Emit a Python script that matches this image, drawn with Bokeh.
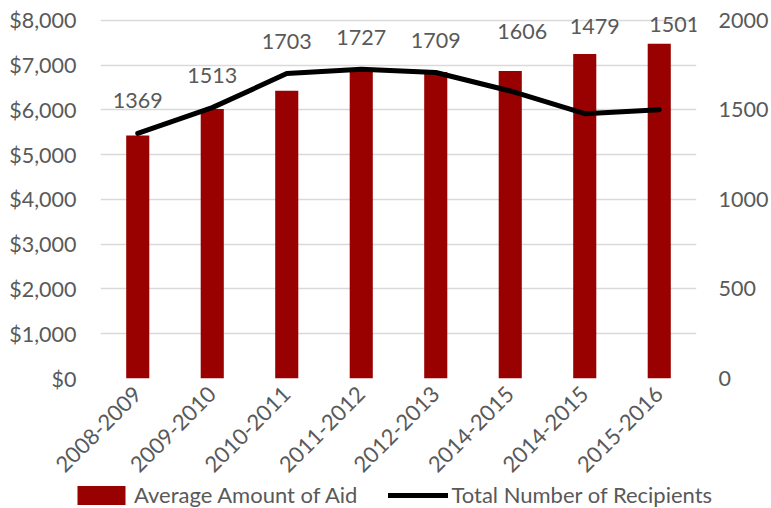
from bokeh.plotting import figure
from bokeh.models import (ColumnDataSource, Range1d, LinearAxis, FixedTicker,
                          NumeralTickFormatter, Legend, LegendItem)
from bokeh.embed import file_html
from bokeh.resources import INLINE
from bokeh.core.properties import value
import math

# ---- data ----
years = ["2008-2009", "2009-2010", "2010-2011", "2011-2012",
         "2012-2013", "2014-2015", "2014-2015", "2015-2016"]
avg_aid = [5430, 6020, 6430, 6920, 6850, 6870, 7250, 7480]
recipients = [1369, 1513, 1703, 1727, 1709, 1606, 1479, 1501]
series_names = ["Average Amount of Aid", "Total Number of Recipients"]
aid_ticks = [0, 1000, 2000, 3000, 4000, 5000, 6000, 7000, 8000]
rec_ticks = [0, 500, 1000, 1500, 2000]

# label placement (pixel offsets, style only)
label_dx = [0, 0, 0, 0, 0, 12, 10, 15]
label_dy = [-33, -32, -32, -32, -32, -59, -87, -85]

FONT = "Lato"
GREY = "#595959"
RED = "#990000"

# head-room above the top gridline so the top labels are not clipped
HEAD = 1 + 10 / 361

xs = list(range(1, len(years) + 1))
src = ColumnDataSource(dict(x=xs, aid=avg_aid, rec=recipients,
                            lbl=[str(v) for v in recipients],
                            dx=label_dx, dy=label_dy))

p = figure(width=771, height=482, output_backend="svg", toolbar_location=None,
           x_range=Range1d(0.5, len(years) + 0.5),
           y_range=Range1d(0, aid_ticks[-1] * HEAD),
           min_border_left=100, min_border_right=71, min_border_top=10,
           min_border_bottom=101)
p.outline_line_color = None
p.extra_y_ranges = {"rec": Range1d(0, rec_ticks[-1] * HEAD)}

p.vbar(x="x", top="aid", width=0.31, source=src, fill_color=RED, line_color=None)
p.line(x="x", y="rec", source=src, y_range_name="rec", line_color="black",
       line_width=5, line_cap="round", line_join="round")
p.text(x="x", y="rec", text="lbl", source=src, y_range_name="rec",
       x_offset="dx", y_offset="dy", text_font=value(FONT), text_font_size="21.5px",
       text_color=GREY, text_align="center", text_baseline="middle")

# axes
p.xaxis.ticker = FixedTicker(ticks=xs)
p.xaxis.major_label_overrides = {x: y for x, y in zip(xs, years)}
p.xaxis.major_label_orientation = math.pi / 4
p.xaxis.major_label_standoff = 12
p.yaxis.ticker = FixedTicker(ticks=aid_ticks)
p.yaxis.formatter = NumeralTickFormatter(format="$0,0")
p.yaxis.major_label_standoff = 24

right = LinearAxis(y_range_name="rec", ticker=FixedTicker(ticks=rec_ticks))
right.major_label_standoff = 22
p.add_layout(right, "right")

for ax in [p.xaxis[0], p.yaxis[0], right]:
    ax.axis_line_color = None
    ax.major_tick_line_color = None
    ax.minor_tick_line_color = None
    ax.major_tick_out = 0
    ax.major_tick_in = 0
    ax.major_label_text_font = FONT
    ax.major_label_text_font_size = "21.5px"
    ax.major_label_text_color = GREY
p.xaxis.major_label_text_font_size = "22px"

p.xgrid.grid_line_color = None
p.ygrid.grid_line_color = "#d9d9d9"
p.ygrid.grid_line_width = 1.5

# ---- legend strip (separate small figure, same styles) ----
lg = figure(width=771, height=26, output_backend="svg", toolbar_location=None,
            x_range=Range1d(0, 1), y_range=Range1d(0, 1),
            x_axis_location=None, y_axis_location=None,
            min_border=0, min_border_left=0, min_border_right=0,
            min_border_top=0, min_border_bottom=0)
lg.outline_line_color = None
lg.xgrid.visible = False
lg.ygrid.visible = False
# off-screen stand-ins that carry the same styles as the chart's marks
stand = ColumnDataSource(dict(x=[-5, -4], top=[-5, -5], y=[-5, -5]))
r_bar = lg.vbar(x="x", top="top", width=0.3, source=stand, fill_color=RED, line_color=None)
r_line = lg.line(x="x", y="y", source=stand, line_color="black", line_width=5,
                 line_cap="round")

legend = Legend(items=[LegendItem(label=series_names[0], renderers=[r_bar]),
                       LegendItem(label=series_names[1], renderers=[r_line])],
                orientation="horizontal", location=(71, 0),
                label_text_font=FONT, label_text_font_size="22px",
                label_text_color=GREY, glyph_width=60, glyph_height=24,
                label_standoff=3, spacing=31, padding=0, margin=0,
                border_line_color=None, background_fill_alpha=0)
lg.add_layout(legend, "center")

open("out.html", "w").write(file_html([p, lg], INLINE))
